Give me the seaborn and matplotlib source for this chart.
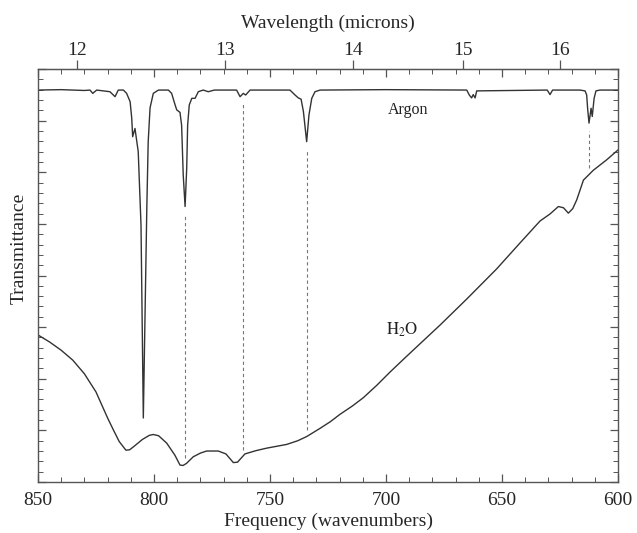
import numpy as np
import pandas as pd
import matplotlib
matplotlib.use("Agg")
import matplotlib.pyplot as plt
import seaborn as sns
from matplotlib.ticker import MultipleLocator, NullFormatter, FixedLocator, NullLocator

sns.set_style("ticks")
plt.rcParams['font.family'] = ['Liberation Serif', 'DejaVu Serif']
plt.rcParams['mathtext.fontset'] = 'stix'

# Argon spectrum (frequency in wavenumbers, transmittance)
argon_freq = [850, 840, 830, 827.6, 826.4, 824.7, 819.0, 816.8, 815.4, 813.2, 811.8, 810.3, 809.6,
              809.2, 808.2, 806.8, 805.6, 804.6, 803.4, 803.1, 802.5, 801.7, 800.3, 798.1,
              793.8, 792.4, 790.9, 790.2, 788.8, 788.1, 787.4, 786.6, 785.9, 785.5, 784.8,
              783.7, 782.3, 780.9, 778.8, 776.6, 774, 764.4, 762.9, 761.5, 760.5, 758.6,
              741.4, 739.2, 737.8, 736.6, 735.6, 734.2, 733.2, 732.0, 730.6, 728.4, 700,
              665.2, 664.1, 663.1, 662.4, 661.6, 660.9, 630.5, 629.3, 628.2, 616.4, 614.2,
              613.5, 613.1, 612.5, 611.6, 611.1, 610.3, 609.5, 607.8, 600]
argon_T = [0.949, 0.950, 0.948, 0.949, 0.941, 0.949, 0.945, 0.933, 0.949, 0.949, 0.941, 0.921, 0.881,
           0.836, 0.856, 0.800, 0.622, 0.155, 0.562, 0.663, 0.824, 0.906, 0.941, 0.949,
           0.949, 0.941, 0.913, 0.901, 0.895, 0.864, 0.743, 0.667, 0.760, 0.864, 0.913,
           0.929, 0.929, 0.945, 0.949, 0.945, 0.949, 0.949, 0.933, 0.941, 0.937, 0.949,
           0.949, 0.937, 0.930, 0.927, 0.897, 0.824, 0.889, 0.929, 0.945, 0.949, 0.950,
           0.949, 0.937, 0.930, 0.938, 0.930, 0.947, 0.949, 0.938, 0.949, 0.949, 0.947,
           0.937, 0.905, 0.869, 0.905, 0.885, 0.929, 0.947, 0.949, 0.949]

# Water spectrum
h2o_freq = [850, 845, 840, 835, 830, 825, 820, 817.5, 815, 812.1, 810.5, 808.9, 805,
            802, 800.3, 798, 794.5, 791, 788.8, 787.5, 786, 783.1, 780, 777.3, 772.3, 769,
            765.8, 764, 760.8, 756, 751.4, 742.8, 738, 734.2, 728.4, 724, 719.8, 714.5, 709.8,
            704, 698.3, 692.5, 686.8, 676.7, 665.2, 652.3, 642.2, 633.6, 629.3, 625.7, 623.5,
            621.4, 619.5, 617.8, 614.9, 610.6, 604.9, 600]
h2o_T = [0.356, 0.339, 0.319, 0.295, 0.262, 0.218, 0.155, 0.126, 0.098, 0.077, 0.078, 0.085, 0.103,
         0.113, 0.115, 0.112, 0.094, 0.065, 0.041, 0.040, 0.045, 0.061, 0.070, 0.075, 0.075, 0.068,
         0.047, 0.048, 0.068, 0.076, 0.082, 0.091, 0.100, 0.110, 0.130, 0.146, 0.164, 0.184, 0.204,
         0.234, 0.266, 0.297, 0.327, 0.380, 0.443, 0.516, 0.579, 0.632, 0.649, 0.667, 0.664,
         0.651, 0.662, 0.683, 0.731, 0.755, 0.780, 0.804]

# Correspondence lines (wavenumbers)
link_freq = [786.6, 761.5, 734.2, 612.5]

wavelength_ticks = [12, 13, 14, 15, 16]

argon = pd.DataFrame({"freq": argon_freq, "T": argon_T})
h2o = pd.DataFrame({"freq": h2o_freq, "T": h2o_T})

fig = plt.figure(figsize=(6.37, 5.33), dpi=100)
ax = fig.add_axes([38/637, 1-482/533, 580/637, 413/533])

line_color = "#333333"
sns.lineplot(data=argon, x="freq", y="T", ax=ax, color=line_color, lw=1.0, estimator=None)
sns.lineplot(data=h2o, x="freq", y="T", ax=ax, color=line_color, lw=1.0, estimator=None)

ar_sorted = argon.sort_values("freq")
h2_sorted = h2o.sort_values("freq")
for f in link_freq:
    top = np.interp(f, ar_sorted["freq"], ar_sorted["T"]) - 0.02
    bot = np.interp(f, h2_sorted["freq"], h2_sorted["T"]) + 0.015
    ax.plot([f, f], [bot, top], ls=(0, (3, 2.5)), color="#777777", lw=0.8)

ax.set_xlim(850, 600)
ax.set_ylim(0, 1)

ax.xaxis.set_major_locator(MultipleLocator(50))
ax.xaxis.set_minor_locator(MultipleLocator(10))
ax.yaxis.set_major_locator(MultipleLocator(0.125))
ax.yaxis.set_minor_locator(MultipleLocator(0.025))
ax.yaxis.set_major_formatter(NullFormatter())

ax.tick_params(which="both", direction="in", top=True, right=True, color="#555555")
ax.tick_params(which="major", length=6, width=0.9, labelsize=14, pad=7)
ax.tick_params(which="minor", length=3.5, width=0.7)
for s in ax.spines.values():
    s.set_color("#555555")
    s.set_linewidth(1.0)

ax.set_xlabel("Frequency (wavenumbers)", fontsize=14, labelpad=3)
ax.set_ylabel("Transmittance", fontsize=14, labelpad=6)
ax.yaxis.set_label_coords(-0.017, 0.565)

sec = ax.secondary_xaxis("top", functions=(lambda f: 1e4 / f, lambda w: 1e4 / w))
sec.xaxis.set_major_locator(FixedLocator(wavelength_ticks))
sec.xaxis.set_minor_locator(NullLocator())
sec.tick_params(direction="out", length=6.5, width=0.9, labelsize=14, pad=1, color="#555555")
sec.spines["top"].set_color("#555555")
sec.set_xlabel("Wavelength (microns)", fontsize=14, labelpad=10)

ax.text(690.5, 0.90, "Argon", fontsize=11.5, ha="center", va="center", color="#222222")
ax.text(693.1, 0.368, r"$\mathrm{H_2O}$", fontsize=12, ha="center", va="center", color="#222222")

fig.savefig("out.png", dpi=100)
